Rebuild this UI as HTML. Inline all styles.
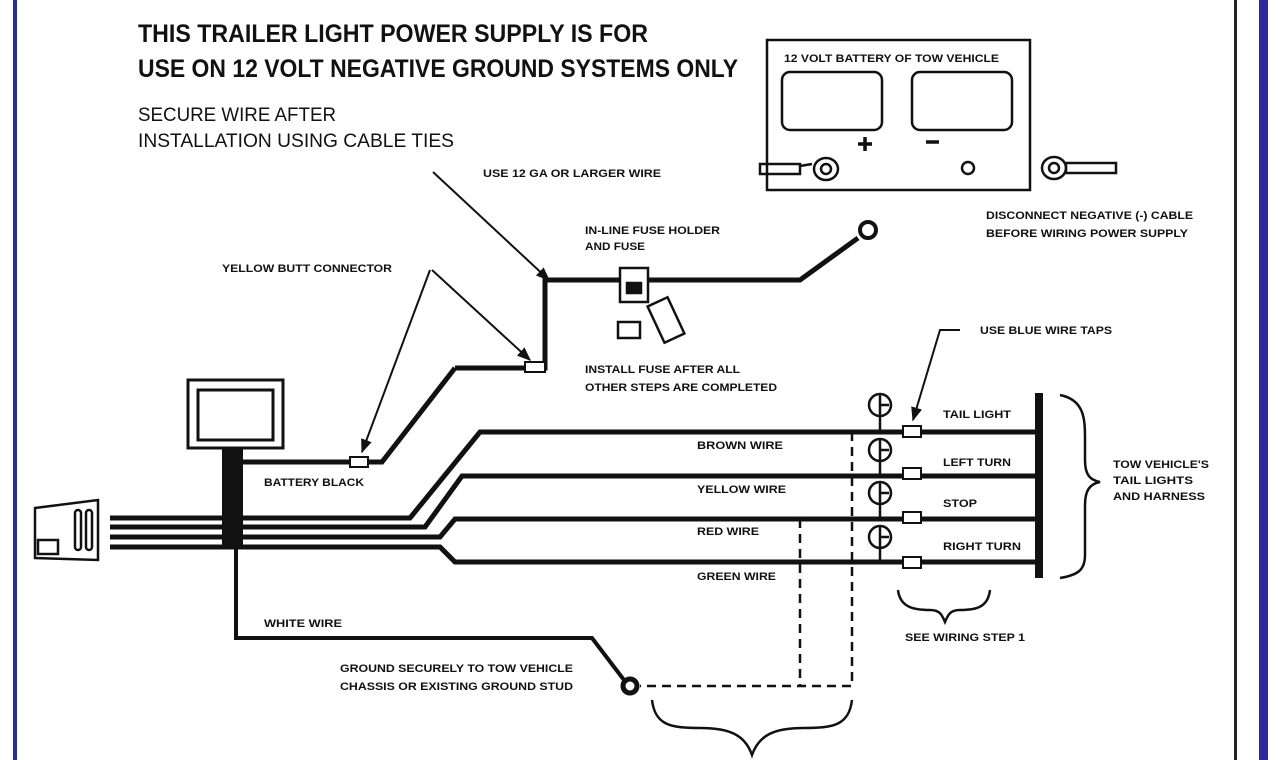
<!DOCTYPE html>
<html><head><meta charset="utf-8"><style>
html,body{margin:0;padding:0;background:#fff;}
svg{display:block}
text{font-family:"Liberation Sans",sans-serif;font-weight:bold;fill:#111}
</style></head><body>
<svg width="1278" height="760" viewBox="0 0 1278 760" xmlns="http://www.w3.org/2000/svg">
<defs><marker id="ar" viewBox="0 0 10 10" refX="9" refY="5" markerWidth="7" markerHeight="7" orient="auto"><path d="M0 1L10 5L0 9Z" fill="#111"/></marker></defs>
<rect width="1278" height="760" fill="#fff"/>
<rect x="13" y="0" width="4" height="760" fill="#2a2a9a"/>
<rect x="1234" y="0" width="3" height="760" fill="#222"/>
<rect x="1259" y="0" width="9" height="760" fill="#2a2a9a"/>

<text x="138" y="42" font-size="25" textLength="510" lengthAdjust="spacingAndGlyphs">THIS TRAILER LIGHT POWER SUPPLY IS FOR</text>
<text x="138" y="77" font-size="25" textLength="600" lengthAdjust="spacingAndGlyphs">USE ON 12 VOLT NEGATIVE GROUND SYSTEMS ONLY</text>
<text x="138" y="121" font-size="19" style="font-weight:normal" textLength="198" lengthAdjust="spacingAndGlyphs">SECURE WIRE AFTER</text>
<text x="138" y="147" font-size="19" style="font-weight:normal" textLength="316" lengthAdjust="spacingAndGlyphs">INSTALLATION USING CABLE TIES</text>

<g stroke="#111" fill="none" stroke-width="2.5">
<rect x="767" y="40" width="263" height="150"/>
<rect x="782" y="72" width="100" height="58" rx="8"/>
<rect x="912" y="72" width="100" height="58" rx="8"/>
<circle cx="968" cy="168" r="6"/>
<path d="M858 144h14M865 137v14" stroke-width="3.5"/>
<path d="M926 142h13" stroke-width="3.5"/>
<rect x="760" y="164" width="40" height="10"/>
<path d="M800 166l12-2"/><ellipse cx="826" cy="169" rx="12" ry="11"/><circle cx="826" cy="169" r="5"/>
<ellipse cx="1054" cy="168" rx="12" ry="11"/><circle cx="1054" cy="168" r="5"/>
<rect x="1066" y="163" width="50" height="10"/>
<path d="M455 368L382 462H243" stroke-width="5"/>
<path d="M455 368H545V280H800L858 238" stroke-width="5"/>
<circle cx="868" cy="230" r="8" stroke-width="4"/>
<rect x="620" y="268" width="28" height="34" fill="#fff"/>
<rect x="627" y="283" width="14" height="10" fill="#111"/>
<rect x="655" y="300" width="22" height="40" transform="rotate(-25 666 320)" fill="#fff"/>
<rect x="618" y="322" width="22" height="16"/>
<rect x="525" y="362" width="20" height="10" fill="#fff" stroke-width="2"/>
<rect x="350" y="457" width="18" height="10" fill="#fff" stroke-width="2"/>
<path d="M433 172L549 280" stroke-width="2" marker-end="url(#ar)"/>
<path d="M432 270L530 360" stroke-width="2" marker-end="url(#ar)"/>
<path d="M430 270L362 452" stroke-width="2" marker-end="url(#ar)"/>
<path d="M960 330H940L913 420" stroke-width="2" marker-end="url(#ar)"/>
<rect x="188" y="380" width="95" height="68" stroke-width="3"/>
<rect x="198" y="390" width="75" height="50" stroke-width="3"/>
<path d="M110 518H410L480 432H1035" stroke-width="5"/>
<path d="M110 527H425L462 476H1035" stroke-width="5"/>
<path d="M110 537H440L455 519H1035" stroke-width="5"/>
<path d="M110 547H440L455 562H1035" stroke-width="5"/>
<path d="M236 545V638H592L624 680" stroke-width="4"/>
<circle cx="630" cy="686" r="7" stroke-width="5"/>
<path d="M35 508L98 500V560L35 558Z" fill="#fff"/>
<rect x="75" y="510" width="6" height="40" rx="3"/><rect x="86" y="510" width="6" height="40" rx="3"/>
<rect x="38" y="540" width="20" height="14"/>
<path d="M1039 393V578" stroke-width="8"/>
<g stroke-width="2.5">
<circle cx="880" cy="405" r="11"/><path d="M880 394v38M880 405h9"/>
<circle cx="880" cy="450" r="11"/><path d="M880 439v37M880 450h9"/>
<circle cx="880" cy="493" r="11"/><path d="M880 482v37M880 493h9"/>
<circle cx="880" cy="537" r="11"/><path d="M880 526v36M880 537h9"/>
</g>
<g fill="#fff" stroke-width="2">
<rect x="903" y="426" width="18" height="11"/>
<rect x="903" y="468" width="18" height="11"/>
<rect x="903" y="512" width="18" height="11"/>
<rect x="903" y="557" width="18" height="11"/>
</g>
<path d="M852 432V686H640M800 519V686" stroke-dasharray="9 6" stroke-width="2.5"/>
<path d="M1060 395C1085 400 1085 420 1085 440V460C1085 475 1090 480 1100 482C1090 484 1085 490 1085 505V555C1085 570 1078 575 1060 578" stroke-width="2.5"/>
<path d="M898 590C900 608 915 610 930 610C940 610 942 615 945 622C948 615 950 610 960 610C975 610 988 608 990 590" stroke-width="2.5"/>
<path d="M652 700C655 725 670 728 700 728C730 728 745 735 752 755C759 735 774 728 804 728C834 728 849 725 852 700" stroke-width="2.5"/>
</g>
<rect x="222" y="448" width="21" height="98" fill="#111"/>

<g font-size="11">
<text x="784" y="62" textLength="215" lengthAdjust="spacingAndGlyphs">12 VOLT BATTERY OF TOW VEHICLE</text>
<text x="986" y="219" textLength="207" lengthAdjust="spacingAndGlyphs">DISCONNECT NEGATIVE (-) CABLE</text>
<text x="986" y="237" textLength="202" lengthAdjust="spacingAndGlyphs">BEFORE WIRING POWER SUPPLY</text>
<text x="483" y="177" textLength="178" lengthAdjust="spacingAndGlyphs">USE 12 GA OR LARGER WIRE</text>
<text x="585" y="234" textLength="135" lengthAdjust="spacingAndGlyphs">IN-LINE FUSE HOLDER</text>
<text x="585" y="250" textLength="60" lengthAdjust="spacingAndGlyphs">AND FUSE</text>
<text x="222" y="272" textLength="170" lengthAdjust="spacingAndGlyphs">YELLOW BUTT CONNECTOR</text>
<text x="585" y="373" textLength="155" lengthAdjust="spacingAndGlyphs">INSTALL FUSE AFTER ALL</text>
<text x="585" y="391" textLength="192" lengthAdjust="spacingAndGlyphs">OTHER STEPS ARE COMPLETED</text>
<text x="980" y="334" textLength="132" lengthAdjust="spacingAndGlyphs">USE BLUE WIRE TAPS</text>
<text x="264" y="486" textLength="100" lengthAdjust="spacingAndGlyphs">BATTERY BLACK</text>
<text x="697" y="449" textLength="86" lengthAdjust="spacingAndGlyphs">BROWN WIRE</text>
<text x="697" y="493" textLength="89" lengthAdjust="spacingAndGlyphs">YELLOW WIRE</text>
<text x="697" y="535" textLength="62" lengthAdjust="spacingAndGlyphs">RED WIRE</text>
<text x="697" y="580" textLength="79" lengthAdjust="spacingAndGlyphs">GREEN WIRE</text>
<text x="943" y="418" textLength="68" lengthAdjust="spacingAndGlyphs">TAIL LIGHT</text>
<text x="943" y="466" textLength="68" lengthAdjust="spacingAndGlyphs">LEFT TURN</text>
<text x="943" y="507" textLength="34" lengthAdjust="spacingAndGlyphs">STOP</text>
<text x="943" y="550" textLength="78" lengthAdjust="spacingAndGlyphs">RIGHT TURN</text>
<text x="1113" y="468" textLength="96" lengthAdjust="spacingAndGlyphs">TOW VEHICLE'S</text>
<text x="1113" y="484" textLength="80" lengthAdjust="spacingAndGlyphs">TAIL LIGHTS</text>
<text x="1113" y="500" textLength="92" lengthAdjust="spacingAndGlyphs">AND HARNESS</text>
<text x="905" y="641" textLength="120" lengthAdjust="spacingAndGlyphs">SEE WIRING STEP 1</text>
<text x="264" y="627" textLength="78" lengthAdjust="spacingAndGlyphs">WHITE WIRE</text>
<text x="340" y="672" textLength="233" lengthAdjust="spacingAndGlyphs">GROUND SECURELY TO TOW VEHICLE</text>
<text x="340" y="690" textLength="233" lengthAdjust="spacingAndGlyphs">CHASSIS OR EXISTING GROUND STUD</text>
</g>
</svg>
</body></html>
